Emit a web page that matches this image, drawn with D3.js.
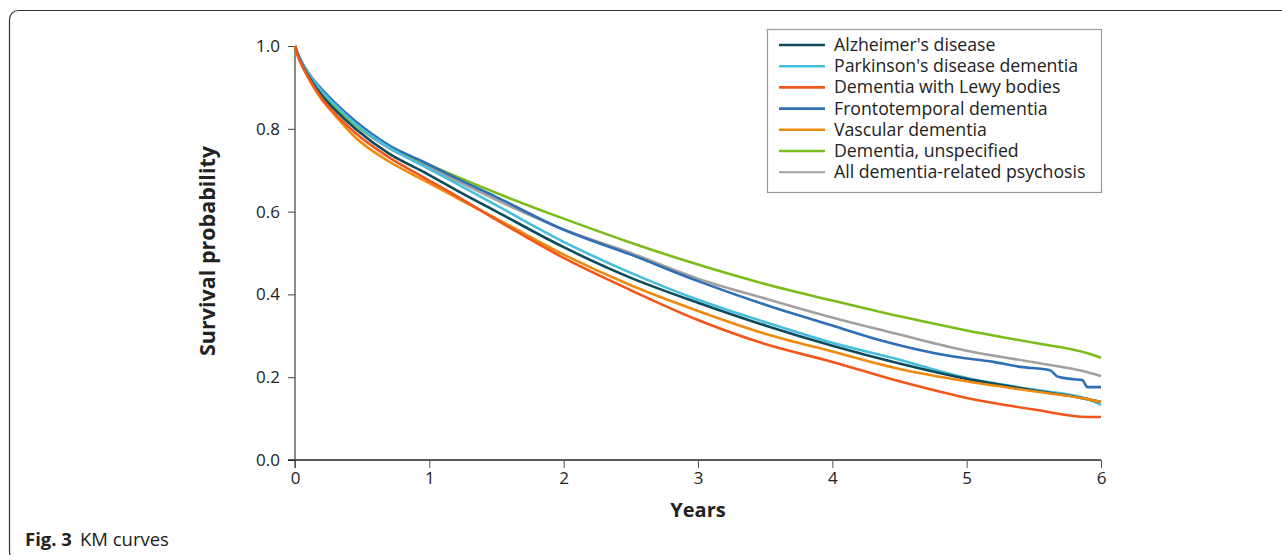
<!DOCTYPE html>
<html lang="en">
<head>
<meta charset="utf-8">
<title>KM curves</title>
<script src="https://cdn.jsdelivr.net/npm/d3@7"></script>
<style>
  body { margin: 0; background: #fff; }
  svg { display: block; }
  .axis text { font-family: "Open Sans", sans-serif; font-size: 17px; fill: #222; }
  .ttl { font-family: "Open Sans", sans-serif; font-size: 20px; font-weight: bold; fill: #222; }
  .leg { font-family: "Open Sans", sans-serif; font-size: 17.7px; fill: #222; }
  .cap { font-family: "Open Sans", "Noto Sans", sans-serif; font-size: 18.5px; fill: #222; }
</style>
</head>
<body>
<svg width="1282" height="555"></svg>
<script>
// series names in legend order
var names = ["Alzheimer's disease", "Parkinson's disease dementia", "Dementia with Lewy bodies",
  "Frontotemporal dementia", "Vascular dementia", "Dementia, unspecified", "All dementia-related psychosis"];
var colors = ["#0d4a5c", "#45bfdd", "#f2561a", "#2e6fb6", "#ee8a10", "#7abd1a", "#a3a09f"];

// years for most of the curves
var years = [0, 0.02, 0.05, 0.1, 0.2, 0.3, 0.45, 0.7, 0.95, 1.2, 1.5, 2.0, 2.5, 3.0, 3.5, 4.0, 4.5, 5.0, 5.5, 5.9, 6.0];

var alzheimer   = [1, 0.979, 0.957, 0.927, 0.880, 0.845, 0.800, 0.740, 0.697, 0.652, 0.600, 0.514, 0.440, 0.380, 0.325, 0.276, 0.233, 0.196, 0.168, 0.147, 0.140];
var parkinson   = [1, 0.981, 0.961, 0.933, 0.891, 0.857, 0.812, 0.755, 0.711, 0.668, 0.615, 0.527, 0.452, 0.387, 0.333, 0.283, 0.242, 0.198, 0.170, 0.147, 0.133];
var lewy        = [1, 0.978, 0.955, 0.924, 0.874, 0.836, 0.790, 0.731, 0.684, 0.638, 0.580, 0.488, 0.410, 0.338, 0.280, 0.237, 0.190, 0.150, 0.122, 0.104, 0.104];
var vascular    = [1, 0.976, 0.954, 0.922, 0.870, 0.832, 0.779, 0.721, 0.677, 0.634, 0.583, 0.496, 0.422, 0.360, 0.305, 0.262, 0.220, 0.190, 0.166, 0.147, 0.140];
var unspecified = [1, 0.981, 0.960, 0.931, 0.886, 0.852, 0.809, 0.757, 0.720, 0.685, 0.645, 0.583, 0.525, 0.472, 0.425, 0.385, 0.347, 0.313, 0.283, 0.258, 0.247];
var allDementia = [1, 0.981, 0.960, 0.931, 0.887, 0.853, 0.809, 0.753, 0.715, 0.675, 0.628, 0.557, 0.500, 0.438, 0.390, 0.344, 0.303, 0.264, 0.236, 0.212, 0.203];

// frontotemporal has its own steps near the end
var ftdYears = [0, 0.02, 0.05, 0.1, 0.2, 0.3, 0.45, 0.7, 0.95, 1.2, 1.5, 2.0, 2.5, 3.0, 3.5, 4.0, 4.35, 4.9, 5.2, 5.4, 5.62, 5.68, 5.8, 5.86, 5.9, 6.0];
var ftd = [1, 0.982, 0.962, 0.935, 0.895, 0.862, 0.818, 0.760, 0.721, 0.681, 0.635, 0.556, 0.496, 0.432, 0.375, 0.325, 0.290, 0.250, 0.237, 0.225, 0.217, 0.201, 0.195, 0.193, 0.176, 0.176];

var yTicks = [0, 0.2, 0.4, 0.6, 0.8, 1.0];
var xTicks = [0, 1, 2, 3, 4, 5, 6];

var series = [
  {x: years, y: alzheimer},
  {x: years, y: parkinson},
  {x: years, y: lewy},
  {x: ftdYears, y: ftd},
  {x: years, y: vascular},
  {x: years, y: unspecified},
  {x: years, y: allDementia}
];

var svg = d3.select("svg");

// outer frame of the figure
svg.append("rect")
    .attr("x", 9.5).attr("y", 10.5)
    .attr("width", 1400).attr("height", 550)
    .attr("rx", 9)
    .attr("fill", "none")
    .attr("stroke", "#333")
    .attr("stroke-width", 1.2);

var x = d3.scaleLinear().domain([0, 6]).range([295, 1101]);
var y = d3.scaleLinear().domain([0, 1]).range([460, 46]);

// y axis
var gy = svg.append("g").attr("class", "axis")
    .attr("transform", "translate(295,0)")
    .call(d3.axisLeft(y).tickValues(yTicks).tickSize(7).tickPadding(8).tickFormat(d3.format(".1f")));
gy.select(".domain").attr("stroke", "#666").attr("stroke-width", 1.5).attr("d", "M0,46V468");
gy.selectAll(".tick line").attr("stroke", "#444");

// x axis
var gx = svg.append("g").attr("class", "axis")
    .attr("transform", "translate(0,460)")
    .call(d3.axisBottom(x).tickValues(xTicks).tickSize(8).tickPadding(4).tickFormat(d3.format("d")));
gx.select(".domain").attr("stroke", "#222").attr("stroke-width", 1.3).attr("d", "M288,0H1101");
gx.selectAll(".tick line").attr("stroke", "#555");

svg.append("text").attr("class", "ttl")
    .attr("x", 698).attr("y", 517)
    .attr("text-anchor", "middle")
    .text("Years");
svg.append("text").attr("class", "ttl")
    .attr("transform", "translate(215,251) rotate(-90)")
    .attr("text-anchor", "middle")
    .style("font-size", "21.5px")
    .text("Survival probability");

// curves
var line = d3.line().curve(d3.curveMonotoneX);
var order = [6, 5, 3, 1, 0, 4, 2];
order.forEach(function(i) {
  var s = series[i];
  var pts = s.x.map(function(t, j) { return [x(t), y(s.y[j])]; });
  svg.append("path")
      .attr("d", line(pts))
      .attr("fill", "none")
      .attr("stroke", colors[i])
      .attr("stroke-width", 2.6)
      .attr("stroke-linejoin", "round");
});

// legend
var leg = svg.append("g").attr("transform", "translate(767,29)");
leg.append("rect")
    .attr("x", 0.5).attr("y", 0.5)
    .attr("width", 334).attr("height", 163)
    .attr("fill", "#fff")
    .attr("stroke", "#999")
    .attr("stroke-width", 1.2);
names.forEach(function(n, i) {
  var ly = 16 + i * 21.2;
  leg.append("line")
      .attr("x1", 12).attr("x2", 58)
      .attr("y1", ly).attr("y2", ly)
      .attr("stroke", colors[i])
      .attr("stroke-width", i == 6 ? 2 : 2.6);
  leg.append("text").attr("class", "leg")
      .attr("x", 67).attr("y", ly + 6)
      .text(n);
});

// caption
var cap = svg.append("text").attr("class", "cap")
    .attr("x", 25).attr("y", 546);
cap.append("tspan").attr("font-weight", "bold").text("Fig. 3");
cap.append("tspan").attr("dx", 8).text("KM curves");
</script>
</body>
</html>
